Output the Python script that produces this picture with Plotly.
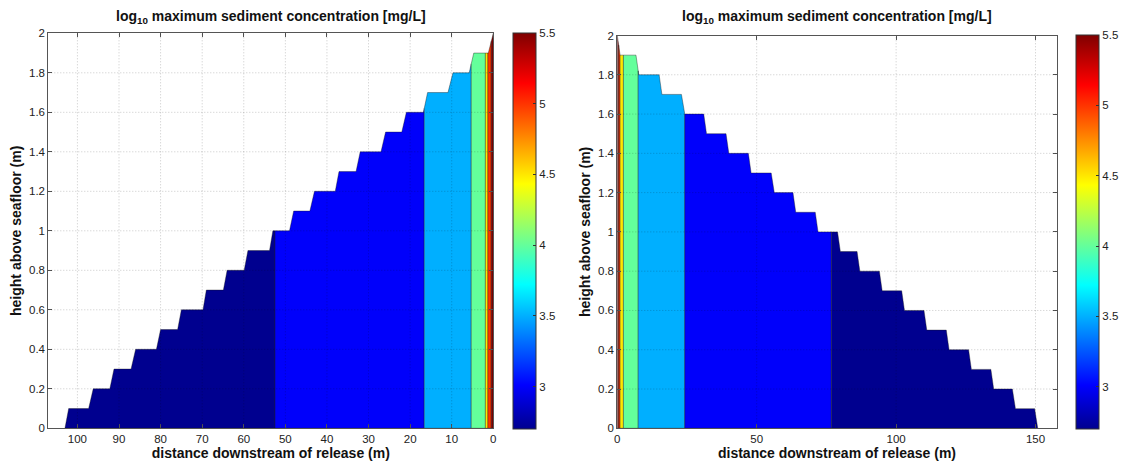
import numpy as np
import plotly.graph_objects as go

# ---------------- data ----------------
left_boundary_dist = [103.0, 102.1, 97.3, 96.2, 92.2, 91.2, 87.1, 86.0, 81.0, 80.0,
                      75.9, 75.0, 69.8, 69.0, 64.9, 64.0, 59.9, 59.0, 53.8, 53.0,
                      49.0, 48.0, 44.1, 43.0, 38.0, 37.1, 33.0, 32.0, 27.0, 25.9,
                      22.0, 20.9, 16.8, 15.8, 10.9, 9.7, 5.8, 4.7, 1.2, 0.0]
left_boundary_height = [0.0, 0.1, 0.1, 0.2, 0.2, 0.3, 0.3, 0.4, 0.4, 0.5,
                        0.5, 0.6, 0.6, 0.7, 0.7, 0.8, 0.8, 0.9, 0.9, 1.0,
                        1.0, 1.1, 1.1, 1.2, 1.2, 1.3, 1.3, 1.4, 1.4, 1.5,
                        1.5, 1.6, 1.6, 1.7, 1.7, 1.8, 1.8, 1.9, 1.9, 2.0]
left_band_edges = [103.0, 52.5, 16.6, 5.3, 1.9, 1.3, 0.5, 0.0]
left_band_values = [2.7, 3.0, 3.5, 4.0, 4.5, 5.0, 5.5]

right_boundary_dist = [0.0, 1.0, 6.7, 7.7, 15.0, 16.0, 23.0, 24.0, 31.0, 32.0,
                       39.0, 40.0, 47.0, 48.0, 55.2, 56.3, 63.0, 64.0, 71.0, 72.0,
                       79.0, 80.0, 86.0, 87.0, 94.0, 95.0, 102.0, 103.0, 110.0, 111.0,
                       118.0, 119.0, 126.0, 127.0, 134.0, 135.0, 141.7, 142.8, 149.7, 150.8]
right_boundary_height = [2.0, 1.9, 1.9, 1.8, 1.8, 1.7, 1.7, 1.6, 1.6, 1.5,
                         1.5, 1.4, 1.4, 1.3, 1.3, 1.2, 1.2, 1.1, 1.1, 1.0,
                         1.0, 0.9, 0.9, 0.8, 0.8, 0.7, 0.7, 0.6, 0.6, 0.5,
                         0.5, 0.4, 0.4, 0.3, 0.3, 0.2, 0.2, 0.1, 0.1, 0.0]
right_band_edges = [0.0, 0.5, 1.0, 2.2, 7.5, 24.2, 76.8, 150.8]
right_band_values = [5.5, 5.0, 4.5, 4.0, 3.5, 3.0, 2.7]

left_xticks = [0, 10, 20, 30, 40, 50, 60, 70, 80, 90, 100]
left_xticklabels = ["0", "10", "20", "30", "40", "50", "60", "70", "80", "90", "100"]
right_xticks = [0, 50, 100, 150]
right_xticklabels = ["0", "50", "100", "150"]
yticks = [0, 0.2, 0.4, 0.6, 0.8, 1.0, 1.2, 1.4, 1.6, 1.8, 2.0]
yticklabels = ["0", "0.2", "0.4", "0.6", "0.8", "1", "1.2", "1.4", "1.6", "1.8", "2"]
cbar_ticks = [3, 3.5, 4, 4.5, 5, 5.5]
cbar_ticklabels = ["3", "3.5", "4", "4.5", "5", "5.5"]
cmin, cmax = 2.7, 5.5

title_text = "<b>log<sub>10</sub> maximum sediment concentration [mg/L]</b>"
xtitle = "<b>distance downstream of release (m)</b>"
ytitle = "<b>height above seafloor (m)</b>"

# ---------------- colour map (MATLAB jet) ----------------
jet_stops = [(0.0, (0, 0, 143)), (0.111, (0, 0, 255)), (0.365, (0, 255, 255)),
             (0.619, (255, 255, 0)), (0.873, (255, 0, 0)), (1.0, (128, 0, 0))]
jet_scale = [[t, "rgb(%d,%d,%d)" % c] for t, c in jet_stops]


def jet_color(v):
    t = (v - cmin) / (cmax - cmin)
    t = min(max(t, 0.0), 1.0)
    ts = [s[0] for s in jet_stops]
    rgb = [np.interp(t, ts, [s[1][k] for s in jet_stops]) for k in range(3)]
    return "rgb(%d,%d,%d)" % tuple(int(round(c)) for c in rgb)


def band_polygon(bd, bh, a, b):
    d = np.array(bd, float)
    h = np.array(bh, float)
    order = np.argsort(d, kind="stable")
    d, h = d[order], h[order]
    lo, hi = min(a, b), max(a, b)
    xs = [lo, lo]
    ys = [0.0, float(np.interp(lo, d, h))]
    for di, hi_ in zip(d, h):
        if lo < di < hi:
            xs.append(float(di))
            ys.append(float(hi_))
    xs += [hi, hi, lo]
    ys += [float(np.interp(hi, d, h)), 0.0, 0.0]
    return xs, ys


FONT = "Liberation Sans, Arial, sans-serif"
W, H = 1124, 465

fig = go.Figure()

panels = [
    dict(bd=left_boundary_dist, bh=left_boundary_height, edges=left_band_edges,
         vals=left_band_values, xa="x", ya="y", cbx=512.5, top=33.3),
    dict(bd=right_boundary_dist, bh=right_boundary_height, edges=right_band_edges,
         vals=right_band_values, xa="x2", ya="y2", cbx=1076.0, top=35.5),
]

for p in panels:
    centers = []
    for i, v in enumerate(p["vals"]):
        a, b = p["edges"][i], p["edges"][i + 1]
        xs, ys = band_polygon(p["bd"], p["bh"], a, b)
        centers.append(0.5 * (a + b))
        fig.add_trace(go.Scatter(
            x=xs, y=ys, mode="lines", fill="toself", fillcolor=jet_color(v),
            line=dict(color="rgba(20,20,20,0.55)", width=0.7),
            xaxis=p["xa"], yaxis=p["ya"], hoverinfo="skip", showlegend=False))
    fig.add_trace(go.Scatter(
        x=centers, y=[0] * len(centers), mode="markers",
        marker=dict(color=p["vals"], colorscale=jet_scale, cmin=cmin, cmax=cmax,
                    size=1, opacity=0, showscale=True,
                    colorbar=dict(
                        x=p["cbx"] / W, xanchor="left", xpad=0,
                        y=1 - 429.0 / H, yanchor="bottom", ypad=0,
                        len=(429.0 - p["top"]) / H, lenmode="fraction",
                        thickness=22.5, thicknessmode="pixels",
                        outlinewidth=1, outlinecolor="#333",
                        tickvals=cbar_ticks, ticktext=cbar_ticklabels,
                        ticks="inside", ticklen=3, tickcolor="#333",
                        tickfont=dict(family=FONT, size=11.5, color="#222"))),
        xaxis=p["xa"], yaxis=p["ya"], hoverinfo="skip", showlegend=False))

axis_common = dict(showline=True, linecolor="#555", linewidth=1, mirror="ticks",
                   ticks="inside", ticklen=4, tickcolor="#555", showgrid=False,
                   zeroline=False, tickfont=dict(family=FONT, size=11.5, color="#222"),
                   automargin=False)
title_font = dict(family=FONT, size=14, color="#111")

fig.update_layout(
    width=W, height=H,
    margin=dict(l=0, r=0, t=0, b=0, autoexpand=False),
    paper_bgcolor="white", plot_bgcolor="white", showlegend=False,
    xaxis=dict(domain=[48.3 / W, 493.3 / W], range=[107, 0], anchor="y",
               tickvals=left_xticks, ticktext=left_xticklabels,
               title=dict(text=xtitle, font=title_font, standoff=2),
               **axis_common),
    yaxis=dict(domain=[1 - 428.3 / H, 1 - 33.3 / H], range=[0, 2], anchor="x",
               tickvals=yticks, ticktext=yticklabels,
               title=dict(text=ytitle, font=title_font, standoff=4),
               **axis_common),
    xaxis2=dict(domain=[617.3 / W, 1056.7 / W], range=[0, 157.6], anchor="y2",
                tickvals=right_xticks, ticktext=right_xticklabels,
                title=dict(text=xtitle, font=title_font, standoff=2),
                **axis_common),
    yaxis2=dict(domain=[1 - 428.3 / H, 1 - 35.5 / H], range=[0, 2], anchor="x2",
                tickvals=yticks, ticktext=yticklabels,
                title=dict(text=ytitle, font=title_font, standoff=4),
                **axis_common),
)

# titles
for cx in [(48.3 + 493.3) / 2, (617.3 + 1056.7) / 2]:
    fig.add_annotation(text=title_text, x=cx / W, y=1 - 17.0 / H, xref="paper", yref="paper",
                       xanchor="center", yanchor="middle", showarrow=False,
                       font=dict(family=FONT, size=14, color="#111"))

# fine dotted grid drawn above the filled regions (as in the reference)
grid_line = dict(color="rgba(0,0,0,0.22)", width=1, dash="1px,2px")
for xa, ya, xt, xr in [("x", "y", left_xticks, (0, 107)), ("x2", "y2", right_xticks, (0, 157.6))]:
    for t in xt:
        if xr[0] < t < xr[1]:
            fig.add_shape(type="line", xref=xa, yref=ya, x0=t, x1=t, y0=0, y1=2,
                          line=grid_line, layer="above")
    for t in yticks:
        if 0 < t < 2:
            fig.add_shape(type="line", xref=xa, yref=ya, x0=xr[0], x1=xr[1], y0=t, y1=t,
                          line=grid_line, layer="above")

fig.write_html("out.html",
               config={"displayModeBar": False},
               post_script="document.body.style.margin='0px';document.body.style.overflow='hidden';")
